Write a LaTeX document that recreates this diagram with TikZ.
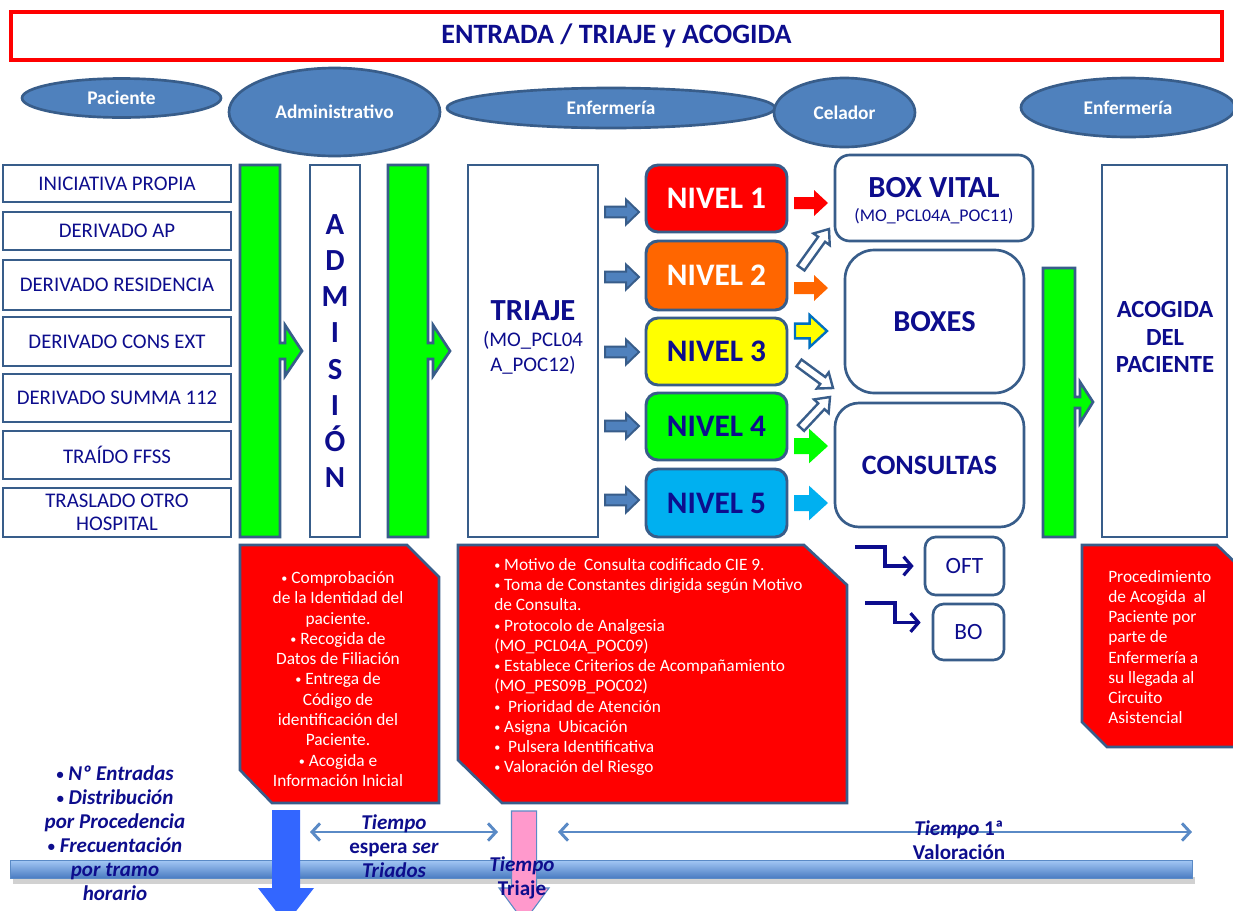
\documentclass[tikz,border=0pt]{standalone}
\usepackage{fontspec}
\usepackage{graphicx}
\setmainfont{Carlito}
\usetikzlibrary{calc,shapes.geometric,arrows.meta}
\definecolor{tnavy}{HTML}{0D0D8D}
\definecolor{bord}{HTML}{385D8A}
\definecolor{ellfill}{HTML}{4F81BD}
\definecolor{gfill}{HTML}{00FF00}
\definecolor{rfill}{HTML}{FF0000}
\definecolor{ofill}{HTML}{FF6600}
\definecolor{yfill}{HTML}{FFFF00}
\definecolor{cfill}{HTML}{00B0F0}
\definecolor{dblue}{HTML}{3366FF}
\definecolor{pinkf}{HTML}{FF99CC}
\definecolor{tarrow}{HTML}{5A8AC6}
\definecolor{barTop}{HTML}{A4C8F5}
\definecolor{barBot}{HTML}{4A7CC2}
\definecolor{yborder}{HTML}{0070C0}
\newcommand\bu{\raisebox{0.12ex}{\scalebox{0.7}{•}}}
\newcommand\mybox[7]{\node[#6, minimum width={(#4-#2)*0.75pt}, minimum height={(#5-#3)*0.75pt}] (#1) at ({(#2+#4)/2},{(#3+#5)/2}) {#7};}
\newcommand\myarrow[6]{\path[#1] ($(#2)!#4!90:(#3)$) -- ($(#3)!#6!(#2)!#4!-90:(#2)$) -- ($(#3)!#6!(#2)!#5!-90:(#2)$) -- (#3) -- ($(#3)!#6!(#2)!#5!90:(#2)$) -- ($(#3)!#6!(#2)!#4!90:(#2)$) -- ($(#2)!#4!-90:(#3)$) -- cycle;}
\tikzset{
 lbox/.style={draw=bord, line width=2pt, fill=white, inner sep=0pt, font=\fontsize{15.6}{17.5}\selectfont, text=tnavy, align=center},
 ell/.style={ellipse, draw=bord, line width=2pt, fill=ellfill, inner sep=0pt, text=white, font=\fontsize{14.5}{16}\selectfont\bfseries},
 nivel/.style={draw=bord, line width=2.2pt, rounded corners=9pt, inner sep=0pt, font=\fontsize{23.5}{25}\selectfont\bfseries},
 rbox/.style={draw=bord, line width=2pt, fill=white, inner sep=0pt, text=tnavy, align=center},
 note/.style={fill=rfill, draw=bord, line width=2pt},
 notetext/.style={text=white, inner sep=0pt, font=\fontsize{13}{15.2}\selectfont},
 gbar/.style={fill=gfill, draw=bord, line width=2pt, line join=miter},
 thinarr/.style={draw=tarrow, line width=2.2pt, {Straight Barb[length=6pt,width=13pt]}-{Straight Barb[length=6pt,width=13pt]}},
 bentarr/.style={draw=tnavy, line width=2.4pt, -{Straight Barb[length=6pt,width=14pt]}},
 stat/.style={text=tnavy, font=\fontsize{15.8}{18}\selectfont\bfseries, align=center, inner sep=0pt},
 smallarr/.style={fill=ellfill, draw=bord, line width=1.5pt},
 whitearr/.style={fill=white, draw=bord, line width=1.8pt},
 txt/.style={text=tnavy, inner sep=0pt},
}
\begin{document}
\begin{tikzpicture}[x=0.75pt,y=-0.75pt]
\useasboundingbox (0,0) rectangle (1233,911);
\fill[white] (0,0) rectangle (1233,911);

% title
\mybox{title}{11}{12}{1222}{60}{draw=rfill, line width=2.4pt, fill=white, text=tnavy, font=\fontsize{21}{23}\selectfont\bfseries, inner sep=0pt}{ENTRADA / TRIAJE y ACOGIDA}

% role ellipses
\node[ell, minimum width=149.25pt, minimum height=29.25pt] (pac) at (121.5,98) {Paciente};
\node[ell, minimum width=158.25pt, minimum height=66pt] (adminis) at (334.5,112) {Administrativo};
\node[ell, minimum width=246pt, minimum height=30pt] (enf1) at (611,108) {Enfermería};
\node[ell, minimum width=105.75pt, minimum height=51.75pt] (cel) at (844.5,112.5) {Celador};
\node[ell, minimum width=160.5pt, minimum height=44.25pt] (enf2) at (1128,107.5) {Enfermería};

% patient origins
\mybox{p1}{3}{165}{231}{202}{lbox}{INICIATIVA PROPIA}
\mybox{p2}{3}{212}{231}{250}{lbox}{DERIVADO AP}
\mybox{p3}{3}{260}{231}{310}{lbox}{DERIVADO RESIDENCIA}
\mybox{p4}{3}{317}{231}{366}{lbox}{DERIVADO CONS EXT}
\mybox{p5}{3}{374}{231}{422}{lbox}{DERIVADO SUMMA 112}
\mybox{p6}{3}{431}{231}{479}{lbox}{TRAÍDO FFSS}
\mybox{p7}{3}{488}{231}{537}{lbox}{TRASLADO OTRO\\HOSPITAL}

% green bars with arrow heads
\path[gbar] (240,165) -- (280,165) -- (280,343) -- (285,343) -- (285,325) -- (302,351) -- (285,376) -- (285,359) -- (280,359) -- (280,537) -- (240,537) -- cycle;
\path[gbar] (388,165) -- (428,165) -- (428,343) -- (433,343) -- (433,325) -- (450,351) -- (433,376) -- (433,359) -- (428,359) -- (428,537) -- (388,537) -- cycle;
\path[gbar] (1043,268) -- (1075,268) -- (1075,397) -- (1080,397) -- (1080,382) -- (1093,402) -- (1080,423) -- (1080,408) -- (1075,408) -- (1075,537) -- (1043,537) -- cycle;

% admision / triaje
\mybox{adm}{310}{165}{360}{537}{rbox, font=\fontsize{23}{27.2}\selectfont\bfseries}{A\\D\\M\\I\\S\\I\\Ó\\N}
\mybox{tri}{468}{165}{598}{537}{rbox}{}
\node[txt, anchor=base, font=\fontsize{23}{25}\selectfont\bfseries] (tri1) at (533,320) {TRIAJE};
\node[txt, anchor=base, font=\fontsize{15.6}{17}\selectfont] (tri2) at (533,346) {(MO\_PCL04};
\node[txt, anchor=base, font=\fontsize{15.6}{17}\selectfont] (tri3) at (533,371) {A\_POC12)};

% small arrows triaje -> niveles
\foreach \i/\yy in {1/212,2/277,3/352,4/426,5/500}{
  \coordinate (sa\i) at (605,\yy);
  \coordinate (sb\i) at (639,\yy);
  \myarrow{smallarr}{sa\i}{sb\i}{4.1pt}{9.4pt}{9.75pt}
}

% niveles
\mybox{n1}{646}{165}{787}{232}{nivel, fill=rfill, text=white}{NIVEL 1}
\mybox{n2}{646}{241}{787}{310}{nivel, fill=ofill, text=white}{NIVEL 2}
\mybox{n3}{646}{318}{787}{385}{nivel, fill=yfill, text=tnavy}{NIVEL 3}
\mybox{n4}{646}{393}{787}{460}{nivel, fill=gfill, text=tnavy}{NIVEL 4}
\mybox{n5}{646}{469}{787}{537}{nivel, fill=cfill, text=tnavy}{NIVEL 5}

% colored arrows
\coordinate (ra1) at (794,203); \coordinate (rb1) at (828,203);
\coordinate (ra2) at (794,288); \coordinate (rb2) at (828,288);
\coordinate (ra3) at (795,331); \coordinate (rb3) at (827,331);
\coordinate (ra4) at (794,446); \coordinate (rb4) at (828,446);
\coordinate (ra5) at (794,503); \coordinate (rb5) at (828,503);
\myarrow{fill=rfill}{ra1}{rb1}{4.5pt}{9.75pt}{10.5pt}
\myarrow{fill=ofill}{ra2}{rb2}{4.5pt}{9.75pt}{10.5pt}
\myarrow{fill=yfill, draw=yborder, line width=1.8pt}{ra3}{rb3}{5.5pt}{12pt}{13pt}
\myarrow{fill=gfill}{ra4}{rb4}{6pt}{13pt}{14.25pt}
\myarrow{fill=cfill}{ra5}{rb5}{6pt}{13pt}{14.25pt}

% white diagonal arrows
\coordinate (wa1) at (801,268); \coordinate (wb1) at (829,229);
\coordinate (wa2) at (799,363); \coordinate (wb2) at (833,388);
\coordinate (wa3) at (801,428); \coordinate (wb3) at (830,397);
\myarrow{whitearr}{wa1}{wb1}{3.2pt}{7.5pt}{9.5pt}
\myarrow{whitearr}{wa2}{wb2}{3.2pt}{7.5pt}{9.5pt}
\myarrow{whitearr}{wa3}{wb3}{3.2pt}{7.5pt}{9.5pt}

% destinations
\mybox{bv}{835}{155}{1033}{241}{rbox, rounded corners=11pt}{}
\node[txt, anchor=base, font=\fontsize{23}{25}\selectfont\bfseries] (bv1) at (934,197) {BOX VITAL};
\node[txt, anchor=base, font=\fontsize{13.4}{15}\selectfont] (bv2) at (934,221) {(MO\_PCL04A\_POC11)};
\mybox{bx}{845}{250}{1024}{393}{rbox, rounded corners=22pt, font=\fontsize{22.8}{24}\selectfont\bfseries}{BOXES}
\mybox{cs}{835}{403}{1024}{527}{rbox, rounded corners=18pt, font=\fontsize{21}{23}\selectfont\bfseries}{CONSULTAS}
\mybox{oft}{925}{537}{1004}{595}{rbox, rounded corners=8pt, font=\fontsize{17.5}{19}\selectfont}{OFT}
\mybox{bo}{933}{604}{1004}{660}{rbox, rounded corners=8pt, font=\fontsize{17.5}{19}\selectfont}{BO}

% bent arrows
\coordinate (oftS) at (855,547);
\coordinate (boS) at (865,603);
\draw[bentarr] (oftS) -- ++(30,0) |- ([xshift=-7.5pt]oft.west);
\draw[bentarr] (boS) -- ++(30,0) |- ([shift={(-11,-9.5)}]bo.west);

% acogida
\mybox{aco}{1102}{165}{1227}{537}{rbox}{}
\node[txt, align=center, font=\fontsize{18.5}{20.6}\selectfont\bfseries] (acot) at (1165,337) {ACOGIDA\\DEL\\PACIENTE};

% red notes
\path[note] (240,545) -- (407,545) -- (439,577) -- (439,803) -- (272,803) -- (240,770) -- cycle;
\node[notetext, align=center] (admnote) at (338,679) {\bu{} Comprobación\\de la Identidad del\\paciente.\\\bu{} Recogida de\\Datos de Filiación\\\bu{} Entrega de\\Código de\\identificación del\\Paciente.\\\bu{} Acogida e\\Información Inicial};
\path[note] (458,545) -- (804,545) -- (847,585) -- (847,803) -- (502,803) -- (458,760) -- cycle;
\node[notetext, align=left, anchor=west] (trinote) at (494,667) {\bu{} Motivo de\ \ Consulta codificado CIE 9.\\\bu{} Toma de Constantes dirigida según Motivo\\de Consulta.\\\bu{} Protocolo de Analgesia\\(MO\_PCL04A\_POC09)\\\bu{} Establece Criterios de Acompañamiento\\(MO\_PES09B\_POC02)\\\bu{}\ \ Prioridad de Atención\\\bu{} Asigna\ \ Ubicación\\\bu{}\ \ Pulsera Identificativa\\\bu{} Valoración del Riesgo};
\path[note] (1082,545) -- (1217,545) -- (1245,572) -- (1245,747) -- (1107,747) -- (1082,722) -- cycle;
\node[notetext, align=left, anchor=west] (aconote) at (1108,647) {Procedimiento\\de Acogida\ \ al\\Paciente por\\parte de\\Enfermería a\\su llegada al\\Circuito\\Asistencial};

% timeline bar
\fill[black!18] (13,877) rectangle (1195,884);
\shade[top color=barTop, bottom color=barBot, draw=tarrow, line width=0.6pt] (10,860) rectangle (1192,878);

% down arrows
\coordinate (bluetop) at (286,810); \coordinate (bluetip) at (286,924);
\myarrow{fill=dblue}{bluetop}{bluetip}{10.5pt}{21pt}{27pt}
\coordinate (pinktop) at (524,811); \coordinate (pinktip) at (524,922);
\myarrow{fill=pinkf, draw=tarrow, line width=0.8pt}{pinktop}{pinktip}{9.4pt}{18.75pt}{25.5pt}

% time arrows
\coordinate (t1L) at (310,832); \coordinate (t1R) at (498,832);
\coordinate (t2L) at (558,832); \coordinate (t2R) at (1192,832);
\draw[thinarr] (t1L) -- (t1R);
\draw[thinarr] (t2L) -- (t2R);

% bottom texts
\node[stat] (stats) at (115,833) {\itshape \bu{} Nº Entradas\\\itshape \bu{} Distribución\\\itshape por Procedencia\\\itshape \bu{} Frecuentación\\\itshape por tramo\\\itshape horario};
\node[stat] (tesp) at (394,846) {\itshape Tiempo\\espera \textit{ser}\\\itshape Triados};
\node[stat] (ttri) at (522,878) {\itshape Tiempo\\Triaje};
\node[stat] (tval) at (959,840) {\textit{Tiempo} 1ª\\Valoración};
\end{tikzpicture}
\end{document}
